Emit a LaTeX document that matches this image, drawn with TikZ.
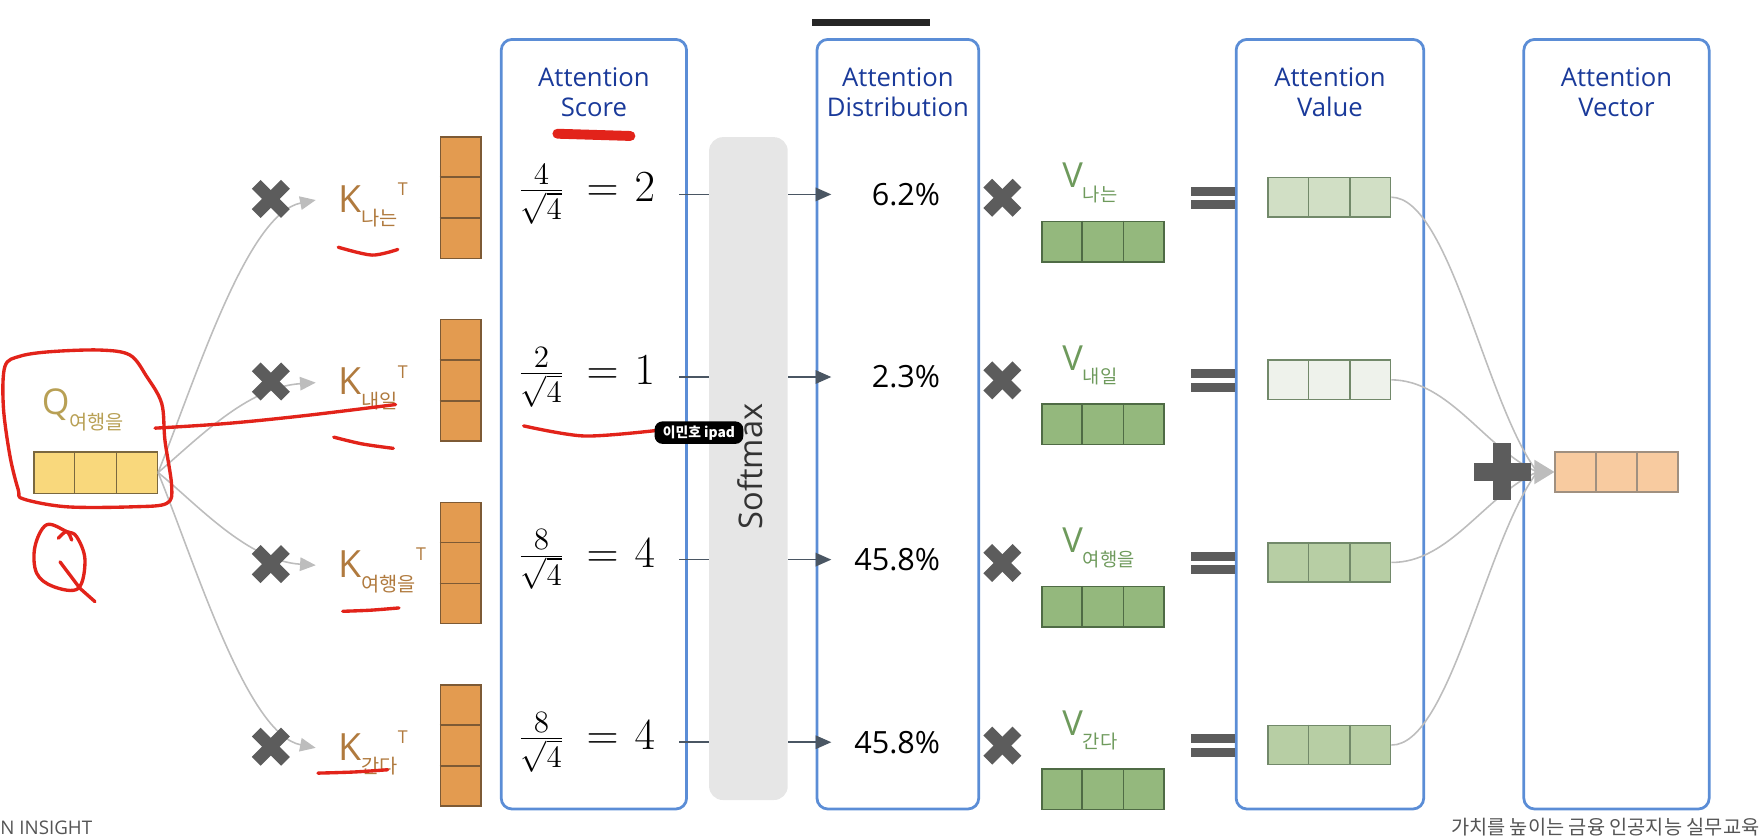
\RequirePackage{fix-cm}
\documentclass[tikz,border=0pt]{standalone}
\usepackage{fontspec}
\usetikzlibrary{arrows.meta,calc}
\newfontfamily\osans{Open Sans}
\newfontfamily\kr{Noto Sans CJK KR}
\definecolor{frameblue}{HTML}{5B8DD6}
\definecolor{titleblue}{HTML}{1A3A9A}
\definecolor{korange}{HTML}{E39B50}
\definecolor{kedge}{HTML}{7D5A35}
\definecolor{qyellow}{HTML}{F9D87C}
\definecolor{qedge}{HTML}{7A6840}
\definecolor{vgreen}{HTML}{94B87D}
\definecolor{vedge}{HTML}{4F6B45}
\definecolor{avone}{HTML}{D1DFC5}
\definecolor{avtwo}{HTML}{EEF2EB}
\definecolor{avthree}{HTML}{B7CEA4}
\definecolor{outpeach}{HTML}{F8CBA0}
\definecolor{outedge}{HTML}{A09080}
\definecolor{markgrey}{HTML}{5C5C5C}
\definecolor{curvegrey}{HTML}{BDBDBD}
\definecolor{smgrey}{HTML}{E6E6E6}
\definecolor{conngrey}{HTML}{4A5663}
\definecolor{ktext}{HTML}{B07A3E}
\definecolor{vtext}{HTML}{6E9A5C}
\definecolor{qtext}{HTML}{B8A055}
\definecolor{pen}{HTML}{E2231A}
\definecolor{foot}{HTML}{555555}
\newcommand{\hcells}[2]{\foreach \f in {0.3333,0.6667}{\draw[line width=0.8pt,#2] ($(#1.north west)!\f!(#1.north east)$) -- ($(#1.south west)!\f!(#1.south east)$);}}
\newcommand{\vcells}[2]{\foreach \f in {0.3333,0.6667}{\draw[line width=0.8pt,#2] ($(#1.north west)!\f!(#1.south west)$) -- ($(#1.north east)!\f!(#1.south east)$);}}
\begin{document}
\begin{tikzpicture}[x=0.02cm,y=-0.02cm,
  frame/.style={draw=frameblue, line width=1.4pt, rounded corners=5.5pt, minimum height=13.7cm, inner sep=0},
  title/.style={text=titleblue, align=center, font=\osans\fontsize{13}{15.6}\selectfont, inner sep=0},
  hvec/.style={line width=0.8pt, minimum width=2.18cm, minimum height=0.72cm, inner sep=0},
  vvec/.style={line width=0.8pt, minimum width=0.72cm, minimum height=2.16cm, inner sep=0},
  lbl/.style={anchor=base west, inner sep=0},
  xm/.style={draw=markgrey, line width=6.3pt},
  conn/.style={draw=conngrey, line width=0.8pt},
  gcurve/.style={draw=curvegrey, line width=0.8pt},
  pen/.style={draw=pen, line width=1.7pt, line cap=round, line join=round}]
\useasboundingbox (0,0) rectangle (1568,746);
% top bar
\fill[black!85] (723,17) rectangle (828,23);
% frames
\node[frame, minimum width=3.30cm] (b1) at (528.5,377.5) {};
\node[frame, minimum width=2.88cm] (b2) at (799,377.5) {};
\node[frame, minimum width=3.34cm] (b3) at (1183.5,377.5) {};
\node[frame, minimum width=3.30cm] (b4) at (1438.5,377.5) {};
\node[title] (t1) at (528.5,82) {Attention\\Score};
\node[title] (t2) at (799,82) {Attention\\Distribution};
\node[title] (t3) at (1183.5,82) {Attention\\Value};
\node[title] (t4) at (1438.5,82) {Attention\\Vector};
% softmax
\node[fill=smgrey, rounded corners=7pt, minimum width=1.4cm, minimum height=11.8cm, inner sep=0] (sm) at (666,417) {};
\node[rotate=90, text=black!80, font=\osans\fontsize{16.5}{16.5}\selectfont, inner sep=0] (smt) at (668,415) {Softmax};
% Q
\node[lbl, text=qtext] (ql) at (37,369) {\osans\fontsize{18}{18}\selectfont Q\raisebox{-7.4pt}{\kr\fontsize{10}{10}\selectfont 여행을}};
\node[hvec, fill=qyellow, draw=qedge, minimum width=2.2cm, minimum height=0.74cm] (q) at (85,420.5) {};
\hcells{q}{qedge}
% output
\node[hvec, fill=outpeach, draw=outedge] (out) at (1438.5,420) {};
\hcells{out}{outedge}
\coordinate (pj) at (1368,420);
\foreach \r/\R/\sub/\num/\res/\pct/\avf in {1/176/나는/4/2/6.2/avone, 2/338.5/내일/2/1/2.3/avtwo, 3/501/여행을/8/4/45.8/avthree, 4/663.5/간다/8/4/45.8/avthree}{
  % left curves
  \coordinate (ka\r) at (281,\R+2);
  \draw[gcurve, -{Triangle[length=0.28cm,width=0.24cm]}] (q.east) .. controls (175,{420+(\R-420)*0.35}) and (220,{\R+2+(420-\R)*0.05}) .. (ka\r);
  \coordinate (xa\r) at (241,\R+1);
  \draw[xm] (xa\r) ++(-13,-13) -- ++(26,26);
  \draw[xm] (xa\r) ++(-13,13) -- ++(26,-26);
  % K column and label
  \node[vvec, fill=korange, draw=kedge] (k\r) at (410,\R) {};
  \vcells{k\r}{kedge}
  \node[lbl, text=ktext] (kl\r) at (301,\R+13) {\osans\fontsize{19}{19}\selectfont K\raisebox{-6.8pt}{\kr\fontsize{10}{10}\selectfont \sub}\raisebox{8.5pt}{\fontsize{9}{9}\selectfont T}};
  % score
  \node[anchor=west, inner sep=0] (s\r) at (461,\R-3) {\fontsize{22.5}{22.5}\selectfont $\frac{\num}{\sqrt{4}}\mkern4mu=\mkern1.5mu\res$};
  \draw[conn] ([xshift=-0.52cm]sm.west |- s\r.center) -- (sm.west |- s\r.center);
  \draw[conn, -{Triangle[length=0.28cm,width=0.24cm]}] (sm.east |- s\r.center) -- ([xshift=0.28cm]b2.west |- s\r.center);
  % percent
  \node[anchor=east, inner sep=0, font=\osans\fontsize{15.5}{15.5}\selectfont] (p\r) at (837,\R-3) {\pct\%};
  \coordinate (xb\r) at (892,\R);
  \draw[xm] (xb\r) ++(-13,-13) -- ++(26,26);
  \draw[xm] (xb\r) ++(-13,13) -- ++(26,-26);
  % V
  \node[lbl, text=vtext] (vl\r) at (945,\R-9) {\osans\fontsize{17.5}{17.5}\selectfont V\raisebox{-6.8pt}{\kr\fontsize{9.5}{9.5}\selectfont \sub}};
  \node[hvec, fill=vgreen, draw=vedge] (v\r) at (981.5,\R+39) {};
  \hcells{v\r}{vedge}
  % equals
  \fill[markgrey] (1060,\R-10) rectangle (1099,\R-2);
  \fill[markgrey] (1060,\R+2) rectangle (1099,\R+10);
  % attention value
  \node[hvec, fill=\avf, draw=vedge!80, minimum height=0.70cm] (av\r) at (1183,\R-0.5) {};
  \hcells{av\r}{vedge!80}
  \draw[gcurve] (av\r.east) .. controls (1290,\R) and (1322,{420+(\R-420)*0.25}) .. (pj);
}
\fill[curvegrey] (out.west) -- ++(-18,-11) -- ++(0,22) -- cycle;
% plus
\fill[markgrey] (1312,412) rectangle (1362,428);
\fill[markgrey] (1329,394) rectangle (1345,445);
% footer
\node[lbl, text=foot, font=\osans\fontsize{9.5}{9.5}\selectfont] (f1) at (0,743) {N INSIGHT};
\node[anchor=base east, inner sep=0, text=foot, font=\kr\fontsize{10}{10}\selectfont] (f2) at (1566,743) {가치를 높이는 금융 인공지능 실무교육};
% handwritten annotations
\draw[pen] plot[smooth cycle, tension=0.55] coordinates {(4.4,326) (17.8,317) (44.5,313) (89,311.5) (115.7,316) (130.5,335) (143.9,359) (146.8,392) (152.8,433) (148.3,448) (118.6,451) (59.4,451) (20.8,444) (16.3,436) (8.9,406) (3,362)};
\draw[pen] plot[smooth, tension=0.6] coordinates {(51.9,479) (59.3,473) (63.8,480.6)};
\draw[pen] plot[smooth cycle, tension=0.6] coordinates {(59.3,473) (41.5,467) (31.1,486.5) (32.6,510) (47.5,522) (69.7,523.6) (75.6,498) (68.2,477.6)};
\draw[pen] (53.4,500) -- (71.2,523.6) -- (84.5,535.4);
\draw[pen] plot[smooth, tension=0.6] coordinates {(138,381) (200,377) (270,370) (352,360)};
\draw[pen] plot[smooth] coordinates {(301,220) (331,227) (354,222)};
\draw[pen] plot[smooth] coordinates {(297,389) (322,395) (350,399)};
\draw[pen] plot[smooth] coordinates {(305,544) (330,543) (355,541)};
\draw[pen] plot[smooth] coordinates {(283,688) (315,687) (345,685)};
\draw[pen] plot[smooth] coordinates {(466,379) (520,388) (585,383)};
\draw[pen, line width=5pt] (496,119) -- (561,121);
% tag
\node[fill=black, rounded corners=4pt, minimum width=1.58cm, minimum height=0.4cm, inner sep=0, text=white, font=\kr\bfseries\fontsize{7}{7}\selectfont] (tag) at (622,385) {이민호 ipad};
\end{tikzpicture}
\end{document}
